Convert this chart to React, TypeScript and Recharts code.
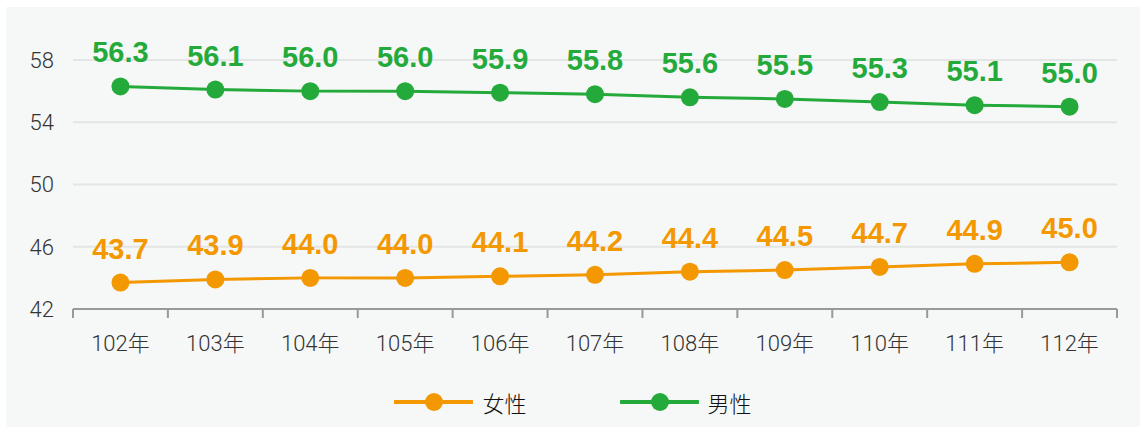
import React from "react";
import { LineChart, Line, XAxis, YAxis, CartesianGrid, LabelList } from "recharts";

const years = ["102年", "103年", "104年", "105年", "106年", "107年", "108年", "109年", "110年", "111年", "112年"];
const female = [43.7, 43.9, 44.0, 44.0, 44.1, 44.2, 44.4, 44.5, 44.7, 44.9, 45.0];
const male = [56.3, 56.1, 56.0, 56.0, 55.9, 55.8, 55.6, 55.5, 55.3, 55.1, 55.0];
const yTicks = [42, 46, 50, 54, 58];

const series = [
  { key: "female", name: "女性", color: "#f39800" },
  { key: "male", name: "男性", color: "#24aa3b" },
];

const data = years.map((year, i) => ({ year, female: female[i], male: male[i] }));

const W = 1134;
const H = 420;
const margin = { top: 53, right: 23, left: 7, bottom: 78 };
const Y_W = 60;
const plotW = W - margin.left - margin.right - Y_W;
const bw = plotW / years.length;

const axisFont = 'Roboto, "Noto Sans CJK TC", sans-serif';
const labelFont = '"Liberation Sans", Arial, sans-serif';

function XTick(props: any) {
  const { x, y, payload, index } = props;
  const last = index === years.length - 1;
  return (
    <g>
      <line x1={x - bw / 2} y1={y} x2={x - bw / 2} y2={y + 9} stroke="#999" strokeWidth={2} />
      {last && <line x1={x + bw / 2} y1={y} x2={x + bw / 2} y2={y + 9} stroke="#999" strokeWidth={2} />}
      <text
        x={x}
        y={y + 34}
        textAnchor="middle"
        dominantBaseline="central"
        fontSize={22}
        fontWeight={300}
        fill="#333"
        style={{ fontFamily: axisFont }}
      >
        {payload.value}
      </text>
    </g>
  );
}

function makeLabel(color: string) {
  return (props: any) => {
    const { x, y, value } = props;
    return (
      <text
        x={x}
        y={y - 34}
        textAnchor="middle"
        dominantBaseline="central"
        fontSize={29}
        fontWeight="bold"
        fill={color}
        style={{ fontFamily: labelFont }}
      >
        {Number(value).toFixed(1)}
      </text>
    );
  };
}

export default function App() {
  return (
    <div style={{ position: "absolute", left: 0, top: 0, width: 1140, height: 427, background: "#fff" }}>
      <div style={{ position: "absolute", left: 6, top: 7, width: W, height: H, background: "#f6f7f7" }}>
        <LineChart width={W} height={H} data={data} margin={margin}>
          <CartesianGrid vertical={false} stroke="#e4e5e5" strokeWidth={2} />
          <XAxis
            dataKey="year"
            interval={0}
            height={40}
            tickLine={false}
            tickSize={0}
            tickMargin={0}
            axisLine={{ stroke: "#999", strokeWidth: 2 }}
            padding={{ left: bw / 2, right: bw / 2 }}
            tick={<XTick />}
          />
          <YAxis
            width={Y_W}
            domain={[42, 58]}
            ticks={yTicks}
            axisLine={false}
            tickLine={false}
            tickMargin={13}
            tick={{ fontSize: 22, fontWeight: 300, fill: "#333", fontFamily: axisFont }}
          />
          {series.map((s) => (
            <Line
              key={s.key}
              type="linear"
              dataKey={s.key}
              name={s.name}
              stroke={s.color}
              strokeWidth={3}
              dot={{ r: 9, fill: s.color, stroke: "none" }}
              activeDot={false}
              isAnimationActive={false}
            >
              <LabelList dataKey={s.key} content={makeLabel(s.color)} />
            </Line>
          ))}
        </LineChart>
        <div
          style={{
            position: "absolute",
            left: 0,
            top: 380,
            width: W,
            height: 30,
            display: "flex",
            justifyContent: "center",
            alignItems: "center",
            gap: 93,
            fontFamily: axisFont,
            fontSize: 22,
            fontWeight: 300,
            color: "#111",
          }}
        >
          {series.map((s) => (
            <div key={s.key} style={{ display: "flex", alignItems: "center", gap: 9 }}>
              <svg width={79} height={20}>
                <line x1={1} y1={10} x2={78} y2={10} stroke={s.color} strokeWidth={4} strokeLinecap="round" />
                <circle cx={40} cy={10} r={9} fill={s.color} />
              </svg>
              <span>{s.name}</span>
            </div>
          ))}
        </div>
      </div>
    </div>
  );
}
